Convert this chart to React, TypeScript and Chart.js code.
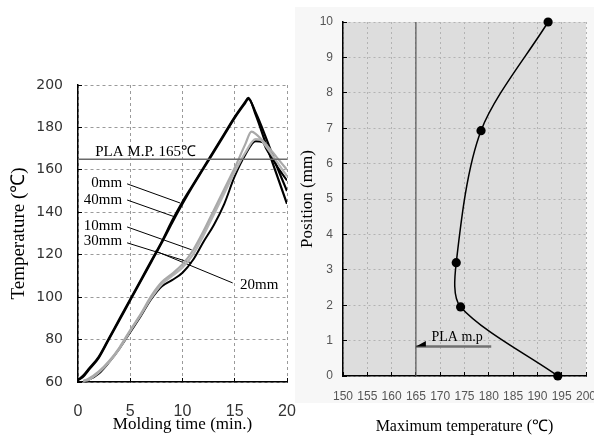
import React, { useEffect, useRef } from "react";
import { Chart, registerables } from "chart.js";

Chart.register(...registerables);

// ---------- Left chart data (Temperature vs molding time) ----------
const time0mm = [0, 0.5, 1, 2, 3, 4, 5, 6, 7, 8, 9, 10, 11, 12, 13, 14, 15, 16, 16.3, 17, 18, 19, 20];
const temp0mm = [61, 63, 66, 72, 81, 90, 99, 108, 117, 126, 136, 145, 153, 161, 169, 177, 185, 192, 194, 186, 172, 158, 144];
const time40mm = [0, 0.5, 1, 2, 3, 4, 5, 6, 7, 8, 9, 10, 11, 12, 13, 14, 15, 16, 16.3, 17, 18, 19, 20];
const temp40mm = [61, 62.5, 65.5, 71.5, 80.5, 89.5, 98.5, 107.5, 116.5, 125.5, 135, 144, 152.5, 160.5, 168.5, 176.5, 184.5, 191.5, 193.5, 187, 175, 162, 150];
const time10mm = [0.5, 1, 2, 3, 4, 5, 6, 7, 8, 9, 10, 11, 12, 13, 14, 15, 16, 16.6, 17, 18, 19, 20];
const temp10mm = [60.5, 61.5, 65, 70, 76.5, 84.5, 92, 100.5, 107, 111, 115.5, 122, 131, 141, 151, 161, 172, 178, 177, 172, 166, 160];
const time30mm = [0.5, 1, 2, 3, 4, 5, 6, 7, 8, 9, 10, 11, 12, 13, 14, 15, 16, 17, 17.5, 18, 19, 20];
const temp30mm = [60.5, 61, 64.5, 69.5, 76, 84, 91.5, 99.5, 106, 110, 114, 120, 129, 139, 149, 159, 168, 174.5, 174, 171, 164, 157];
const time20mm = [0.5, 1, 2, 3, 4, 5, 6, 7, 8, 9, 10, 11, 12, 13, 14, 15, 16, 17, 17.7, 18, 19, 20];
const temp20mm = [60.5, 61, 64, 69.5, 76, 83.5, 91, 99, 105, 108, 111.5, 117.5, 126, 134, 144, 157, 167, 173.5, 173, 170, 162, 155];

const plaMeltTemp = 165;
const plaLabelLeft = "PLA M.P. 165℃";

// curve labels (text, anchor in data coords) and leader lines
const curveLabelTexts = ["0mm", "40mm", "10mm", "30mm", "20mm"];
const curveLabelX = [4.23, 4.23, 4.23, 4.23, 15.5];
const curveLabelY = [154, 145.8, 133.3, 126.2, 105.8];
const leaderStartX = [4.7, 4.7, 4.7, 4.7, 7.38];
const leaderStartY = [153.4, 145.8, 133.1, 125.6, 121.8];
const leaderEndX = [9.76, 9.28, 10.88, 10.9, 14.8];
const leaderEndY = [144.4, 137.8, 122.3, 116.1, 106.7];

// ---------- Right chart data (Position vs maximum temperature) ----------
const maxTemps = [192.2, 178.4, 173.3, 174.2, 194.2];
const positions = [10, 6.93, 3.2, 1.95, 0];
const plaMpArrowY = 0.83;
const plaMpArrowEndX = 180.5;
const plaLabelRight = "PLA m.p";
const plaLabelRightX = 168.2;
const plaLabelRightY = 1.1;

const pts = (xs: number[], ys: number[]) => xs.map((x, i) => ({ x, y: ys[i] }));

const leftTextPlugin = {
  id: "leftText",
  afterDatasetsDraw(chart: any) {
    const { ctx, scales } = chart;
    const xs = scales.x;
    const ys = scales.y;
    ctx.save();
    ctx.fillStyle = "#000";
    ctx.font = "15px 'Liberation Serif'";
    ctx.textBaseline = "middle";
    ctx.textAlign = "left";
    ctx.fillText(plaLabelLeft, xs.getPixelForValue(1.65), ys.getPixelForValue(168.5));
    curveLabelTexts.forEach((t, i) => {
      ctx.textAlign = i < 4 ? "right" : "left";
      ctx.fillText(t, xs.getPixelForValue(curveLabelX[i]), ys.getPixelForValue(curveLabelY[i]));
    });
    ctx.restore();
  },
};

const rightPlugin = {
  id: "rightDecor",
  beforeDraw(chart: any) {
    const { ctx, chartArea } = chart;
    ctx.save();
    ctx.fillStyle = "#f7f7f7";
    ctx.fillRect(1, 7, chart.width, 396);
    ctx.fillStyle = "#dddddd";
    ctx.fillRect(chartArea.left, chartArea.top, chartArea.right - chartArea.left, chartArea.bottom - chartArea.top);
    ctx.restore();
  },
  afterDatasetsDraw(chart: any) {
    const { ctx, scales } = chart;
    const xs = scales.x;
    const ys = scales.y;
    const ax = xs.getPixelForValue(plaMeltTemp);
    const ay = ys.getPixelForValue(plaMpArrowY);
    ctx.save();
    ctx.fillStyle = "#000";
    ctx.beginPath();
    ctx.moveTo(ax, ay);
    ctx.lineTo(ax + 10, ay - 5.5);
    ctx.lineTo(ax + 10, ay);
    ctx.closePath();
    ctx.fill();
    ctx.font = "14px 'Liberation Serif'";
    ctx.textBaseline = "middle";
    ctx.textAlign = "left";
    ctx.fillText(plaLabelRight, xs.getPixelForValue(plaLabelRightX), ys.getPixelForValue(plaLabelRightY));
    ctx.restore();
  },
};

const fixX = (h: number) => (s: any) => {
  s.height = h;
  s.paddingLeft = 0;
  s.paddingRight = 0;
};
const fixY = (w: number) => (s: any) => {
  s.width = w;
  s.paddingTop = 0;
  s.paddingBottom = 0;
};

function leftConfig(): any {
  const leaders = curveLabelTexts.map((t, i) => ({
    label: "leader " + t,
    data: [
      { x: leaderStartX[i], y: leaderStartY[i] },
      { x: leaderEndX[i], y: leaderEndY[i] },
    ],
    borderColor: "#000",
    borderWidth: 1,
    pointRadius: 0,
  }));
  return {
    type: "line",
    data: {
      datasets: [
        { label: "PLA M.P.", data: [{ x: 0, y: plaMeltTemp }, { x: 20, y: plaMeltTemp }], borderColor: "#6a6a6a", borderWidth: 1.5, pointRadius: 0 },
        { label: "10mm", data: pts(time10mm, temp10mm), borderColor: "#a9a9a9", borderWidth: 2.2, pointRadius: 0, cubicInterpolationMode: "monotone" },
        { label: "30mm", data: pts(time30mm, temp30mm), borderColor: "#b4b4b4", borderWidth: 2.2, pointRadius: 0, cubicInterpolationMode: "monotone" },
        { label: "20mm", data: pts(time20mm, temp20mm), borderColor: "#000", borderWidth: 2, pointRadius: 0, cubicInterpolationMode: "monotone" },
        { label: "40mm", data: pts(time40mm, temp40mm), borderColor: "#000", borderWidth: 2.2, pointRadius: 0, cubicInterpolationMode: "monotone" },
        { label: "0mm", data: pts(time0mm, temp0mm), borderColor: "#000", borderWidth: 2.2, pointRadius: 0, cubicInterpolationMode: "monotone" },
        ...leaders,
      ],
    },
    options: {
      responsive: false,
      animation: false,
      events: [],
      layout: { padding: { top: 85, right: 13, left: 0, bottom: 0 } },
      plugins: { legend: { display: false }, tooltip: { enabled: false } },
      scales: {
        x: {
          type: "linear",
          min: 0,
          max: 20,
          afterFit: fixX(54),
          ticks: { stepSize: 5, font: { family: "'Liberation Sans'", size: 16 }, color: "#333", padding: 24.4, maxRotation: 0 },
          grid: { color: "#9a9a9a", lineWidth: 1, tickLength: -4, tickColor: "#000", tickWidth: 1 },
          border: { color: "#000", width: 1.5, dash: [3, 3] },
          title: { display: true, text: "Molding time (min.)", font: { family: "'Liberation Serif'", size: 17 }, color: "#000", padding: { top: 0, bottom: 1 } },
        },
        y: {
          type: "linear",
          min: 60,
          max: 200,
          afterFit: fixY(78),
          ticks: { stepSize: 20, font: { family: "'DejaVu Sans'", size: 14 }, color: "#333", padding: 19 },
          grid: { color: "#9a9a9a", lineWidth: 1, tickLength: -4, tickColor: "#000", tickWidth: 1 },
          border: { color: "#000", width: 1.5, dash: [3, 3] },
          title: { display: true, text: "Temperature (℃)", font: { family: "'Liberation Serif'", size: 19 }, color: "#000", padding: { top: 8, bottom: 0 } },
        },
      },
    },
    plugins: [leftTextPlugin],
  };
}

function rightConfig(): any {
  return {
    type: "line",
    data: {
      datasets: [
        { label: "PLA m.p. line", data: [{ x: plaMeltTemp, y: 0 }, { x: plaMeltTemp, y: 10 }], borderColor: "#555", borderWidth: 1.2, pointRadius: 0 },
        { label: "PLA m.p. arrow", data: [{ x: plaMeltTemp, y: plaMpArrowY }, { x: plaMpArrowEndX, y: plaMpArrowY }], borderColor: "#707070", borderWidth: 2.5, pointRadius: 0 },
        {
          label: "Maximum temperature",
          data: pts(maxTemps, positions),
          borderColor: "#000",
          borderWidth: 1.5,
          tension: 0.3,
          pointRadius: 4.6,
          pointBackgroundColor: "#000",
          pointBorderColor: "#000",
          pointBorderWidth: 0,
          clip: false,
        },
      ],
    },
    options: {
      responsive: false,
      animation: false,
      events: [],
      layout: { padding: { top: 22, right: 20, left: 0, bottom: 0 } },
      plugins: { legend: { display: false }, tooltip: { enabled: false } },
      scales: {
        x: {
          type: "linear",
          min: 150,
          max: 200,
          afterFit: fixX(60),
          ticks: { stepSize: 5, font: { family: "'Liberation Sans'", size: 12 }, color: "#555", padding: 17.8, maxRotation: 0 },
          grid: { color: "#b3b3b3", lineWidth: 1, tickLength: -4, tickColor: "#000", tickWidth: 1 },
          border: { color: "#000", width: 1.5, dash: [2, 3] },
          title: { display: true, text: "Maximum temperature (℃)", font: { family: "'Liberation Serif'", size: 16 }, color: "#000", padding: { top: 0, bottom: 0 } },
        },
        y: {
          type: "linear",
          min: 0,
          max: 10,
          afterFit: fixY(49),
          ticks: { stepSize: 1, font: { family: "'Liberation Sans'", size: 12 }, color: "#555", padding: 14 },
          grid: { color: "#b3b3b3", lineWidth: 1, tickLength: -4, tickColor: "#000", tickWidth: 1 },
          border: { color: "#000", width: 1.5, dash: [2, 3] },
          title: { display: true, text: "Position (mm)", font: { family: "'Liberation Serif'", size: 17 }, color: "#000", padding: { top: 3, bottom: 0 } },
        },
      },
    },
    plugins: [rightPlugin],
  };
}

export default function App() {
  const leftRef = useRef<HTMLCanvasElement>(null);
  const rightRef = useRef<HTMLCanvasElement>(null);
  useEffect(() => {
    const c1 = new Chart(leftRef.current as HTMLCanvasElement, leftConfig());
    const c2 = new Chart(rightRef.current as HTMLCanvasElement, rightConfig());
    return () => {
      c1.destroy();
      c2.destroy();
    };
  }, []);
  return (
    <div style={{ position: "absolute", left: 0, top: 0, width: 594, height: 436, overflow: "hidden", background: "#fff" }}>
      <canvas ref={leftRef} width={300} height={436} style={{ position: "absolute", left: 0, top: 0 }} />
      <canvas ref={rightRef} width={312} height={436} style={{ position: "absolute", left: 294, top: 0 }} />
    </div>
  );
}
